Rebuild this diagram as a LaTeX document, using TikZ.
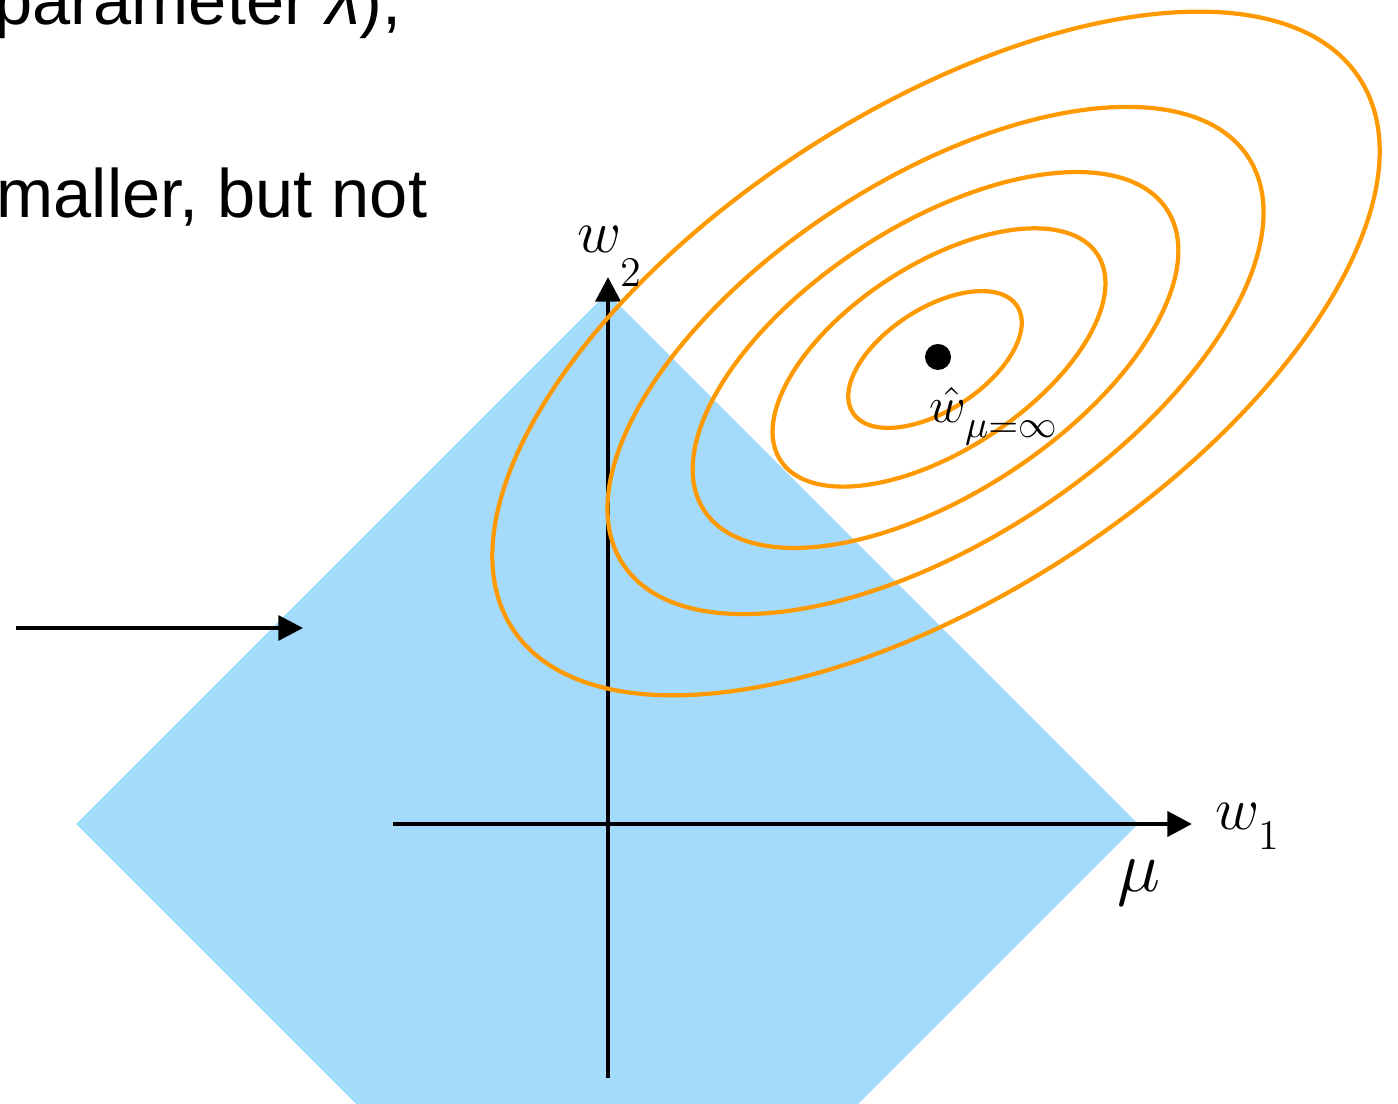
\documentclass[tikz,border=0pt]{standalone}
\usepackage{fontspec}
\setmainfont{Liberation Sans}
\usetikzlibrary{arrows.meta}
\definecolor{cball}{HTML}{A4DAFB}
\definecolor{clev}{HTML}{FF9900}
\newcommand{\dropsub}[2]{\raisebox{#1}{$\scriptstyle #2$}}

\begin{document}
\begin{tikzpicture}[
  >={Triangle[length=7pt, width=7pt]},
  axis/.style={->, line width=1.4pt},
  level/.style={draw=clev, line width=1.2pt},
  lab/.style={inner sep=0pt, anchor=base west, font=\fontsize{16.5}{18}\selectfont},
  slide/.style={inner sep=0pt, anchor=base west, font=\fontsize{19.5}{23}\selectfont},
]
\clip (0,0) rectangle (13.98,11.03);
\useasboundingbox (0,0) rectangle (13.98,11.03);

% text left over from the slide
\node[slide] (txtA) at (-0.06,10.78) {parameter \textit{λ}),};
\node[slide] (txtB) at (-0.04,8.85) {maller, but not};

% l1 ball
\coordinate (o) at (6.07,2.79);
\fill[cball] (0.76,2.79) -- (6.07,8.10) -- (11.38,2.79) -- (6.07,-2.52) -- cycle;

% axes
\coordinate (xs) at (3.93,2.79);
\coordinate (xe) at (11.92,2.79);
\coordinate (ys) at (6.08,0.25);
\coordinate (ye) at (6.08,8.26);
\draw[axis] (xs) -- (xe);
\draw[axis] (ys) -- (ye);

% pointer
\coordinate (ps) at (0.16,4.75);
\coordinate (pe) at (3.03,4.75);
\draw[->, line width=1.2pt] (ps) -- (pe);

% level sets of the loss
\foreach \a/\b/\cx/\cy in {0.98/0.51/9.35/7.435, 1.89/0.93/9.39/7.455,
    2.76/1.345/9.355/7.43, 3.73/1.81/9.355/7.425, 5.05/2.42/9.36/7.495} {
  \draw[level, rotate around={33:(\cx,\cy)}] (\cx,\cy) ellipse [x radius=\a, y radius=\b];
}

% unregularised optimum
\node[circle, fill=black, inner sep=0pt, minimum size=2.6mm] (wopt) at (9.38,7.46) {};

% labels
\node[lab] (lw2) at (5.77,8.50) {$w_{\dropsub{-0.8ex}{2}}$};
\node[lab] (lw1) at (12.15,2.73) {$w_{\dropsub{-0.35ex}{1}}$};
\node[inner sep=0pt, anchor=base, font=\fontsize{20}{22}\selectfont] (lmu) at (11.39,2.12) {$\mu$};
\node[lab, font=\fontsize{15.5}{17}\selectfont] (lwopt) at (9.29,6.80) {$\hat{w}_{\dropsub{-0.25ex}{\mu=\infty}}$};
\end{tikzpicture}
\end{document}
